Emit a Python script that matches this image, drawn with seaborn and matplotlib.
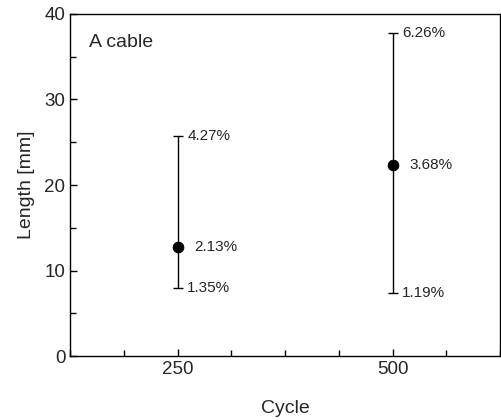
import numpy as np
import matplotlib
matplotlib.use("Agg")
import matplotlib.pyplot as plt
import seaborn as sns
from matplotlib.ticker import MultipleLocator, AutoMinorLocator

cycles = [250, 500]
length_mean = [12.8, 22.3]
length_high = [25.7, 37.8]
length_low = [8.0, 7.4]
label_mean = ["2.13%", "3.68%"]
label_high = ["4.27%", "6.26%"]
label_low = ["1.35%", "1.19%"]

sns.set_style("ticks")
plt.rcParams['font.family'] = ['Liberation Sans', 'DejaVu Sans']

fig = plt.figure(figsize=(5.01, 4.20), dpi=100)
ax = fig.add_axes([0.14, 0.152, 0.858, 0.815])

mean = np.array(length_mean)
yerr = [mean - np.array(length_low), np.array(length_high) - mean]
ax.errorbar(cycles, length_mean, yerr=yerr, fmt="none", ecolor="black",
            elinewidth=1, capsize=3.5, capthick=1)
sns.scatterplot(x=cycles, y=length_mean, color="black", s=60, ax=ax,
                edgecolor="black", zorder=3)

for x, ym, yh, yl, lm, lh, ll in zip(cycles, length_mean, length_high, length_low,
                                     label_mean, label_high, label_low):
    ax.annotate(lh, (x, yh), xytext=(7, 0), textcoords="offset points",
                va="center", fontsize=11)
    ax.annotate(lm, (x, ym), xytext=(12, 0), textcoords="offset points",
                va="center", fontsize=11)
    ax.annotate(ll, (x, yl), xytext=(7, 0), textcoords="offset points",
                va="center", fontsize=11)

ax.text(0.045, 0.915, "A cable", transform=ax.transAxes, fontsize=14, va="center")

ax.set_xlim(125, 625)
ax.set_ylim(0, 40)
ax.xaxis.set_major_locator(MultipleLocator(250))
ax.xaxis.set_minor_locator(AutoMinorLocator(4))
ax.yaxis.set_major_locator(MultipleLocator(10))
ax.yaxis.set_minor_locator(AutoMinorLocator(2))
ax.tick_params(which="both", direction="in", top=False, right=False,
               labelsize=13.5, width=1, color="black")
ax.tick_params(which="major", length=5)
ax.tick_params(which="minor", length=4)
for sp in ax.spines.values():
    sp.set_linewidth(1)
    sp.set_color("black")

ax.set_xlabel("Cycle", fontsize=14, labelpad=16)
ax.set_ylabel("Length [mm]", fontsize=14, labelpad=7)

fig.savefig("out.png", dpi=100)
